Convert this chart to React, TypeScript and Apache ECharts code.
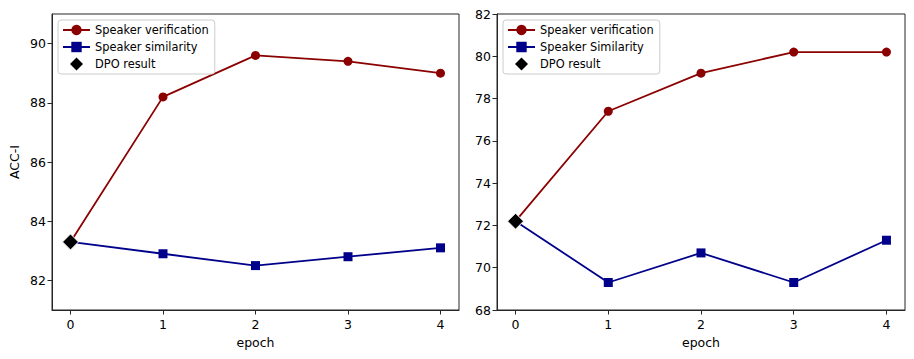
import React, { useEffect, useRef } from "react";
import * as echarts from "echarts";

const epochs = [0, 1, 2, 3, 4];
const leftVerification = [83.3, 88.2, 89.6, 89.4, 89.0];
const leftSimilarity = [83.3, 82.9, 82.5, 82.8, 83.1];
const leftDPO = 83.3;
const rightVerification = [72.2, 77.4, 79.2, 80.2, 80.2];
const rightSimilarity = [72.2, 69.3, 70.7, 69.3, 71.3];
const rightDPO = 72.2;
const leftYTicks = [82, 84, 86, 88, 90];
const rightYTicks = [68, 70, 72, 74, 76, 78, 80, 82];

const FONT = "DejaVu Sans";
const RED = "#8B0000";
const BLUE = "#00008B";
const AXIS = "#262626";
const DIAMOND = "path://M5,0L10,5L5,10L0,5Z";

// first point sits under the DPO diamond, so its own marker is hidden
function pairs(vals: number[]) {
  return epochs.map((e, i) =>
    i === 0 ? { value: [e, vals[i]], symbol: "none" } : { value: [e, vals[i]] }
  );
}

export default function App() {
  const ref = useRef<HTMLDivElement>(null);
  useEffect(() => {
    if (!ref.current) return;
    const chart = echarts.init(ref.current, null, { renderer: "svg" });
    const xAxisBase = (gridIndex: number) => ({
      type: "value",
      gridIndex,
      min: -0.2,
      max: 4.2,
      name: "epoch",
      nameLocation: "middle",
      nameGap: 26,
      nameTextStyle: { fontFamily: FONT, fontSize: 12.5, color: "#000" },
      axisLine: { show: true, onZero: false, lineStyle: { color: AXIS, width: 1 } },
      axisTick: { show: true, length: 4.5, customValues: epochs, lineStyle: { color: AXIS } },
      axisLabel: { customValues: epochs, margin: 8, fontFamily: FONT, fontSize: 12.5, color: "#000" },
      splitLine: { show: false },
    });
    const yAxisBase = (gridIndex: number, min: number, max: number, ticks: number[]) => ({
      type: "value",
      gridIndex,
      min,
      max,
      axisLine: { show: true, onZero: false, lineStyle: { color: AXIS, width: 1 } },
      axisTick: { show: true, length: 4.5, customValues: ticks, lineStyle: { color: AXIS } },
      axisLabel: { customValues: ticks, margin: 6, fontFamily: FONT, fontSize: 12.5, color: "#000" },
      splitLine: { show: false },
    });
    const legendBase = (left: number, simName: string) => ({
      orient: "vertical",
      left,
      top: 20,
      data: [
        { name: "Speaker verification" },
        { name: simName },
        { name: "DPO result", icon: DIAMOND, itemStyle: { borderWidth: 0 } },
      ],
      itemWidth: 27,
      itemHeight: 13,
      itemGap: 3,
      symbolKeepAspect: true,
      padding: [3, 6, 3, 4],
      backgroundColor: "rgba(255,255,255,0.8)",
      borderColor: "#cccccc",
      borderWidth: 1,
      borderRadius: 3,
      textStyle: { fontFamily: FONT, fontSize: 11.4, lineHeight: 14, color: "#000" },
      selectedMode: false,
    });
    const lineSeries = (name: string, vals: number[], idx: number, color: string, symbol: string, size: number) => ({
      type: "line",
      name,
      xAxisIndex: idx,
      yAxisIndex: idx,
      data: pairs(vals),
      symbol,
      symbolSize: size,
      showSymbol: true,
      lineStyle: { color, width: 1.8 },
      itemStyle: { color },
      z: 2,
    });
    const dpoSeries = (val: number, idx: number) => ({
      type: "scatter",
      name: "DPO result",
      xAxisIndex: idx,
      yAxisIndex: idx,
      data: [[epochs[0], val]],
      symbol: "diamond",
      symbolSize: 16,
      itemStyle: { color: "#000", opacity: 1, borderColor: "#fff", borderWidth: 1 },
      z: 5,
    });
    chart.setOption({
      animation: false,
      backgroundColor: "#fff",
      grid: [
        { left: 52, right: 455, top: 14, bottom: 49, show: true, borderColor: AXIS, borderWidth: 1, backgroundColor: "transparent" },
        { left: 497, right: 9, top: 14, bottom: 49, show: true, borderColor: AXIS, borderWidth: 1, backgroundColor: "transparent" },
      ],
      xAxis: [xAxisBase(0), xAxisBase(1)],
      yAxis: [
        {
          ...yAxisBase(0, 81, 91, leftYTicks),
          name: "ACC-I",
          nameLocation: "middle",
          nameGap: 31,
          nameTextStyle: { fontFamily: FONT, fontSize: 12.5, color: "#000" },
        },
        yAxisBase(1, 68, 82, rightYTicks),
      ],
      legend: [
        legendBase(58, "Speaker similarity"),
        legendBase(503, "Speaker Similarity"),
      ],
      series: [
        lineSeries("Speaker verification", leftVerification, 0, RED, "circle", 9),
        lineSeries("Speaker similarity", leftSimilarity, 0, BLUE, "rect", 9),
        dpoSeries(leftDPO, 0),
        lineSeries("Speaker verification", rightVerification, 1, RED, "circle", 9),
        lineSeries("Speaker Similarity", rightSimilarity, 1, BLUE, "rect", 9),
        dpoSeries(rightDPO, 1),
      ],
    });
    return () => chart.dispose();
  }, []);
  return (
    <div
      ref={ref}
      style={{ position: "absolute", left: 0, top: 0, width: 914, height: 359 }}
    />
  );
}
